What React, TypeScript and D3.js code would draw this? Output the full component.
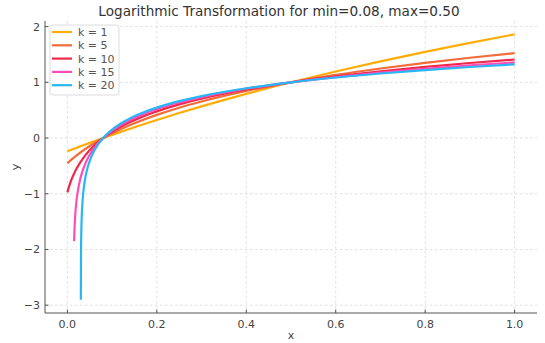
import React, { useEffect, useRef } from "react";
import * as d3 from "d3";

// values
const xGrid = [0, 0.02, 0.04, 0.06, 0.08, 0.1, 0.13, 0.16, 0.2, 0.25, 0.3, 0.4, 0.5, 0.6, 0.7, 0.8, 0.9, 1.0];
const yK1 = [-0.238, -0.177, -0.116, -0.058, 0, 0.057, 0.139, 0.22, 0.323, 0.448, 0.567, 0.792, 1, 1.194, 1.376, 1.547, 1.708, 1.86];
const yK5 = [-0.452, -0.315, -0.197, -0.093, 0, 0.084, 0.197, 0.297, 0.415, 0.544, 0.656, 0.845, 1, 1.132, 1.247, 1.349, 1.44, 1.523];

const xK10 = [0, 0.005, 0.01, 0.02, 0.04, 0.06, 0.08, 0.1, 0.13, 0.16, 0.2, 0.25, 0.3, 0.4, 0.5, 0.6, 0.7, 0.8, 0.9, 1.0];
const yK10 = [-0.976, -0.841, -0.73, -0.556, -0.31, -0.135, 0, 0.111, 0.246, 0.357, 0.478, 0.603, 0.706, 0.87, 1, 1.107, 1.197, 1.276, 1.346, 1.409];

const xK15 = [0.015, 0.016, 0.0175, 0.02, 0.025, 0.03, 0.04, 0.05, 0.06, 0.08, 0.1, 0.13, 0.16, 0.2, 0.25, 0.3, 0.4, 0.5, 0.6, 0.7, 0.8, 0.9, 1.0];
const yK15 = [-1.85, -1.619, -1.395, -1.158, -0.877, -0.697, -0.461, -0.301, -0.179, 0, 0.132, 0.282, 0.397, 0.518, 0.637, 0.734, 0.884, 1, 1.094, 1.173, 1.242, 1.302, 1.356];

const xK20 = [0.0301, 0.0305, 0.031, 0.032, 0.034, 0.037, 0.04, 0.045, 0.05, 0.06, 0.07, 0.08, 0.1, 0.13, 0.16, 0.2, 0.25, 0.3, 0.4, 0.5, 0.6, 0.7, 0.8, 0.9, 1.0];
const yK20 = [-2.9, -2.055, -1.746, -1.437, -1.127, -0.877, -0.718, -0.537, -0.409, -0.228, -0.1, 0, 0.15, 0.309, 0.426, 0.546, 0.661, 0.753, 0.893, 1, 1.086, 1.158, 1.22, 1.275, 1.323];

const seriesNames = ["k = 1", "k = 5", "k = 10", "k = 15", "k = 20"];
const seriesColors = ["#ffad05", "#f26b38", "#f0284a", "#ff4db8", "#29b6f6"];
const xTicks = [0, 0.2, 0.4, 0.6, 0.8, 1.0];
const yTicks = [-3, -2, -1, 0, 1, 2];

const App = () => {
  const ref = useRef<SVGSVGElement | null>(null);
  const width = 545;
  const height = 343;
  const left = 45;
  const right = 537;
  const top = 21;
  const bottom = 313;

  useEffect(() => {
    const svg = d3.select(ref.current);
    svg.selectAll("*").remove();
    const font = "DejaVu Sans, sans-serif";

    const x = d3.scaleLinear().domain([-0.05, 1.05]).range([left, right]);
    const y = d3.scaleLinear().domain([-3.14, 2.1]).range([bottom, top]);

    const series = [
      { xs: xGrid, ys: yK1 },
      { xs: xGrid, ys: yK5 },
      { xs: xK10, ys: yK10 },
      { xs: xK15, ys: yK15 },
      { xs: xK20, ys: yK20 },
    ];

    // grid
    const grid = svg.append("g");
    grid
      .selectAll(".gx")
      .data(xTicks)
      .join("line")
      .attr("x1", (d) => x(d))
      .attr("x2", (d) => x(d))
      .attr("y1", top)
      .attr("y2", bottom)
      .attr("stroke", "#d8d8d8")
      .attr("stroke-width", 0.8)
      .attr("stroke-dasharray", "2.5,2.5");
    grid
      .selectAll(".gy")
      .data(yTicks)
      .join("line")
      .attr("x1", left)
      .attr("x2", right)
      .attr("y1", (d) => y(d))
      .attr("y2", (d) => y(d))
      .attr("stroke", "#d8d8d8")
      .attr("stroke-width", 0.8)
      .attr("stroke-dasharray", "2.5,2.5");

    // lines
    const line = d3
      .line<[number, number]>()
      .x((d) => x(d[0]))
      .y((d) => y(d[1]))
      .curve(d3.curveMonotoneX);

    series.forEach((s, i) => {
      const pts = s.xs.map((v, j) => [v, s.ys[j]] as [number, number]);
      svg
        .append("path")
        .attr("d", line(pts))
        .attr("fill", "none")
        .attr("stroke", seriesColors[i])
        .attr("stroke-width", 2.2)
        .attr("stroke-linecap", "butt");
    });

    // spines
    svg
      .append("line")
      .attr("x1", left)
      .attr("x2", left)
      .attr("y1", top)
      .attr("y2", bottom)
      .attr("stroke", "#555")
      .attr("stroke-width", 1);
    svg
      .append("line")
      .attr("x1", left)
      .attr("x2", right)
      .attr("y1", bottom)
      .attr("y2", bottom)
      .attr("stroke", "#555")
      .attr("stroke-width", 1);

    // ticks (inward)
    const xt = svg.append("g").selectAll("g").data(xTicks).join("g");
    xt.append("line")
      .attr("x1", (d) => x(d))
      .attr("x2", (d) => x(d))
      .attr("y1", bottom)
      .attr("y2", bottom - 3.5)
      .attr("stroke", "#555");
    xt.append("text")
      .attr("x", (d) => x(d))
      .attr("y", bottom + 15)
      .attr("text-anchor", "middle")
      .attr("font-family", font)
      .attr("font-size", 11)
      .attr("fill", "#444")
      .text((d) => d3.format(".1f")(d));

    const yt = svg.append("g").selectAll("g").data(yTicks).join("g");
    yt.append("line")
      .attr("x1", left)
      .attr("x2", left + 3.5)
      .attr("y1", (d) => y(d))
      .attr("y2", (d) => y(d))
      .attr("stroke", "#555");
    yt.append("text")
      .attr("x", left - 5)
      .attr("y", (d) => y(d) + 4)
      .attr("text-anchor", "end")
      .attr("font-family", font)
      .attr("font-size", 11)
      .attr("fill", "#444")
      .text((d) => d3.format("d")(d).replace("-", "\u2212"));

    // labels
    svg
      .append("text")
      .attr("x", (left + right) / 2 - 12)
      .attr("y", 16)
      .attr("text-anchor", "middle")
      .attr("font-family", font)
      .attr("font-size", 13.6)
      .attr("fill", "#333")
      .text("Logarithmic Transformation for min=0.08, max=0.50");
    svg
      .append("text")
      .attr("x", (left + right) / 2)
      .attr("y", 339)
      .attr("text-anchor", "middle")
      .attr("font-family", font)
      .attr("font-size", 11)
      .attr("fill", "#444")
      .text("x");
    svg
      .append("text")
      .attr("transform", `translate(19,${(top + bottom) / 2}) rotate(-90)`)
      .attr("text-anchor", "middle")
      .attr("font-family", font)
      .attr("font-size", 11)
      .attr("fill", "#444")
      .text("y");

    // legend
    const lg = svg.append("g").attr("transform", "translate(50,25)");
    lg.append("rect")
      .attr("width", 69)
      .attr("height", 70)
      .attr("rx", 3)
      .attr("fill", "white")
      .attr("fill-opacity", 0.85)
      .attr("stroke", "#dcdcdc");
    const items = lg
      .selectAll(".item")
      .data(seriesNames)
      .join("g")
      .attr("transform", (d, i) => `translate(0,${7 + i * 13.3})`);
    items
      .append("line")
      .attr("x1", 2)
      .attr("x2", 22)
      .attr("stroke", (d, i) => seriesColors[i])
      .attr("stroke-width", 2.2);
    items
      .append("text")
      .attr("x", 28)
      .attr("y", 4)
      .attr("font-family", font)
      .attr("font-size", 11)
      .attr("fill", "#555")
      .text((d) => d);
  }, []);

  return (
    <svg
      ref={ref}
      width={width}
      height={height}
      style={{ position: "absolute", left: 0, top: 0, background: "white" }}
    />
  );
};

export default App;
